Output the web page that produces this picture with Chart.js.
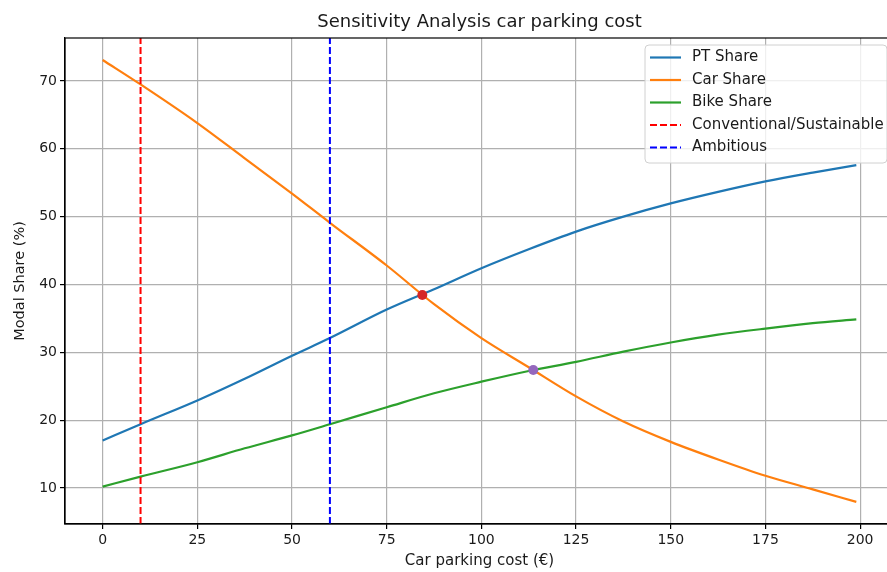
<!DOCTYPE html>
<html lang="en">
<head>
    <meta charset="UTF-8">
    <title>Sensitivity Analysis car parking cost</title>
    <script src="https://cdn.jsdelivr.net/npm/chart.js@4.4.1/dist/chart.umd.min.js"></script>
    <style>
        body {
            margin: 0;
            background-color: white;
            overflow: hidden;
        }
    </style>
</head>
<body>
    <canvas id="sensChart" width="900" height="572"></canvas>

    <script>
        // parking cost samples (EUR) and the modal shares (%) at each one
        const cost = [0, 10, 25, 37.5, 50, 60, 75, 87.5, 100, 112.5, 125, 137.5, 150, 162.5, 175, 187.5, 199];
        const ptShare = [17.0, 19.4, 22.9, 26.1, 29.5, 32.1, 36.3, 39.3, 42.4, 45.2, 47.8, 50.0, 51.95, 53.65, 55.2, 56.5, 57.6];
        const carShare = [73.1, 69.5, 63.8, 58.6, 53.4, 49.1, 42.8, 37.1, 32.1, 27.8, 23.5, 19.8, 16.8, 14.2, 11.8, 9.8, 7.95];
        const bikeShare = [10.2, 11.67, 13.8, 15.85, 17.75, 19.4, 21.9, 23.96, 25.67, 27.25, 28.6, 30.1, 31.45, 32.6, 33.5, 34.3, 34.87];

        // scenario thresholds
        const conventionalCost = 10;
        const ambitiousCost = 60;

        // crossing points: PT/Car and Bike/Car
        const ptCarCross = [84.4, 38.45];
        const bikeCarCross = [113.7, 27.4];

        const xTicks = [0, 25, 50, 75, 100, 125, 150, 175, 200];
        const yTicks = [10, 20, 30, 40, 50, 60, 70];
        const xMin = -9.95, xMax = 208.95;
        const yMin = 4.69, yMax = 76.34;

        const pts = (ys) => cost.map((c, i) => ({x: c, y: ys[i]}));
        const vline = (c) => [{x: c, y: yMin}, {x: c, y: yMax}];

        Chart.defaults.font.family = "'DejaVu Sans', sans-serif";
        Chart.defaults.color = "#1a1a1a";

        // box round the axes (top/right spines) and the legend in the upper right
        const framePlugin = {
            id: 'frame',
            afterDraw(chart) {
                const ctx = chart.ctx;
                const a = chart.chartArea;
                ctx.save();
                ctx.strokeStyle = "#000";
                ctx.lineWidth = 1.2;
                ctx.strokeRect(a.left, a.top, a.right - a.left, a.bottom - a.top);

                const items = chart.data.datasets.filter(d => d.inLegend);
                const bx = 645, by = 45, bw = 242, bh = 118;
                ctx.beginPath();
                ctx.roundRect(bx, by, bw, bh, 4);
                ctx.fillStyle = "rgba(255,255,255,0.8)";
                ctx.fill();
                ctx.strokeStyle = "#d0d0d0";
                ctx.lineWidth = 1;
                ctx.stroke();

                ctx.font = "15px 'DejaVu Sans'";
                ctx.textBaseline = "middle";
                items.forEach((d, i) => {
                    const y = 57.5 + i * 22.5;
                    ctx.beginPath();
                    ctx.setLineDash(d.borderDash || []);
                    ctx.strokeStyle = d.borderColor;
                    ctx.lineWidth = 2.2;
                    ctx.moveTo(650, y);
                    ctx.lineTo(681, y);
                    ctx.stroke();
                    ctx.setLineDash([]);
                    ctx.fillStyle = "#1a1a1a";
                    ctx.fillText(d.label, 692, y);
                });
                ctx.restore();
            }
        };

        const lineStyle = {pointRadius: 0, borderWidth: 2.2, fill: false, cubicInterpolationMode: 'monotone', inLegend: true};
        const dashStyle = {pointRadius: 0, borderWidth: 2, fill: false, borderDash: [7, 3], inLegend: true};

        new Chart(document.getElementById("sensChart"), {
            type: "line",
            data: {
                datasets: [
                    Object.assign({label: 'PT Share', data: pts(ptShare), borderColor: "#1f77b4", order: 5}, lineStyle),
                    Object.assign({label: 'Car Share', data: pts(carShare), borderColor: "#ff7f0e", order: 4}, lineStyle),
                    Object.assign({label: 'Bike Share', data: pts(bikeShare), borderColor: "#2ca02c", order: 3}, lineStyle),
                    Object.assign({label: 'Conventional/Sustainable', data: vline(conventionalCost), borderColor: "#ff0000", order: 2}, dashStyle),
                    Object.assign({label: 'Ambitious', data: vline(ambitiousCost), borderColor: "#0000ff", order: 1}, dashStyle),
                    {
                        label: 'crossings',
                        data: [{x: ptCarCross[0], y: ptCarCross[1]}, {x: bikeCarCross[0], y: bikeCarCross[1]}],
                        showLine: false,
                        pointRadius: 5,
                        pointBorderWidth: 0,
                        pointBackgroundColor: ["#d62728", "#9467bd"],
                        order: 0
                    }
                ]
            },
            options: {
                responsive: false,
                animation: false,
                layout: {padding: {left: 0, right: 6, top: 0, bottom: 0}},
                plugins: {
                    legend: {display: false},
                    tooltip: {enabled: false},
                    title: {
                        display: true,
                        fullSize: false,
                        text: 'Sensitivity Analysis car parking cost',
                        font: {size: 18, weight: 'normal'},
                        color: "#1a1a1a",
                        padding: {top: 11.2, bottom: 5.2}
                    }
                },
                scales: {
                    x: {
                        type: 'linear',
                        min: xMin,
                        max: xMax,
                        afterBuildTicks: (s) => { s.ticks = xTicks.map(v => ({value: v})); },
                        afterFit: (s) => { s.height = 48; },
                        ticks: {font: {size: 14}, padding: 3, maxRotation: 0},
                        grid: {color: "#b0b0b0", lineWidth: 1.2, tickColor: "#000", tickLength: 5, tickWidth: 1.2},
                        border: {color: "#000", width: 1.2},
                        title: {display: true, text: 'Car parking cost (€)', font: {size: 15}, padding: {top: 0, bottom: 2.2}}
                    },
                    y: {
                        min: yMin,
                        max: yMax,
                        afterBuildTicks: (s) => { s.ticks = yTicks.map(v => ({value: v})); },
                        afterFit: (s) => { s.width = 65; },
                        ticks: {font: {size: 14}, padding: 3},
                        grid: {color: "#b0b0b0", lineWidth: 1.2, tickColor: "#000", tickLength: 5, tickWidth: 1.2},
                        border: {color: "#000", width: 1.2},
                        title: {display: true, text: 'Modal Share (%)', font: {size: 14.5}, padding: {top: 12, bottom: 0}}
                    }
                }
            },
            plugins: [framePlugin]
        });
    </script>
</body>
</html>
